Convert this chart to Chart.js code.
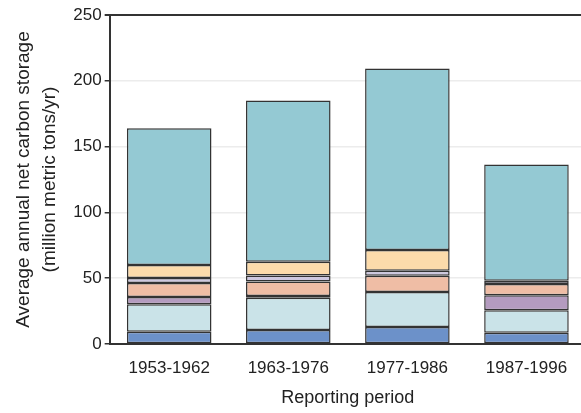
<!DOCTYPE html>
<html>
<head>
<meta charset="utf-8">
<script src="https://cdn.jsdelivr.net/npm/chart.js@4"></script>
<style>
  html, body { margin: 0; padding: 0; background: #fff; overflow: hidden; }
  #wrap { width: 590px; height: 413px; }
</style>
</head>
<body>
<div id="wrap"><canvas id="carbonChart" width="590" height="413"></canvas></div>
<script>
const periods = ['1953-1962', '1963-1976', '1977-1986', '1987-1996'];

// stacked from the bottom up
const blueSeg = [9.4, 10.7, 13.0, 8.6];
const lightBlueSeg = [20.9, 24.4, 26.6, 17.1];
const purpleSeg = [5.5, 1.3, 0, 11.4];
const salmonSeg = [10.5, 11.1, 12.2, 8.4];
const lavenderSeg = [3.8, 4.6, 3.8, 2.5];
const yellowSeg = [9.9, 10.4, 15.8, 0];
const tealSeg = [103.9, 122.5, 138.0, 88.4];

const yTicks = [0, 50, 100, 150, 200, 250];

const font = "'Liberation Sans', Arial, sans-serif";
const textColor = '#222';
const edge = '#333';

function seg(data, color) {
  return {
    data: data,
    backgroundColor: color,
    borderColor: edge,
    borderWidth: 1.5,
    borderSkipped: false,
    barPercentage: 0.71,
    categoryPercentage: 1
  };
}

const ctx = document.getElementById('carbonChart').getContext('2d');
new Chart(ctx, {
  type: 'bar',
  data: {
    labels: periods,
    datasets: [
      seg(blueSeg, '#6c91c9'),
      seg(lightBlueSeg, '#cae3e8'),
      seg(purpleSeg, '#b49bbf'),
      seg(salmonSeg, '#efbda5'),
      seg(lavenderSeg, '#cec8e0'),
      seg(yellowSeg, '#fcdbab'),
      seg(tealSeg, '#94c9d3')
    ]
  },
  options: {
    responsive: false,
    animation: false,
    layout: { padding: { top: 15, right: 4, left: 7, bottom: 0 } },
    plugins: {
      legend: { display: false },
      tooltip: { enabled: false }
    },
    scales: {
      x: {
        stacked: true,
        grid: { display: false },
        border: { display: true, color: edge, width: 2 },
        ticks: { color: textColor, font: { family: font, size: 17 }, padding: 6 },
        title: {
          display: true,
          text: 'Reporting period',
          color: textColor,
          font: { family: font, size: 18 },
          padding: { top: 3 }
        }
      },
      y: {
        stacked: true,
        min: 0,
        max: 250,
        afterBuildTicks: axis => { axis.ticks = yTicks.map(v => ({ value: v })); },
        grid: {
          color: c => (c.tick && c.tick.value === 250 ? edge : '#ececec'),
          lineWidth: c => (c.tick && c.tick.value === 250 ? 2 : 1.5),
          tickColor: edge,
          tickLength: 5
        },
        border: { display: true, color: edge, width: 2 },
        ticks: { color: textColor, font: { family: font, size: 17 }, padding: 3 },
        title: {
          display: true,
          text: ['Average annual net carbon storage', '(million metric tons/yr)'],
          color: textColor,
          font: { family: font, size: 19, lineHeight: 1.35 },
          padding: { bottom: 8 }
        }
      }
    }
  }
});
</script>
</body>
</html>
